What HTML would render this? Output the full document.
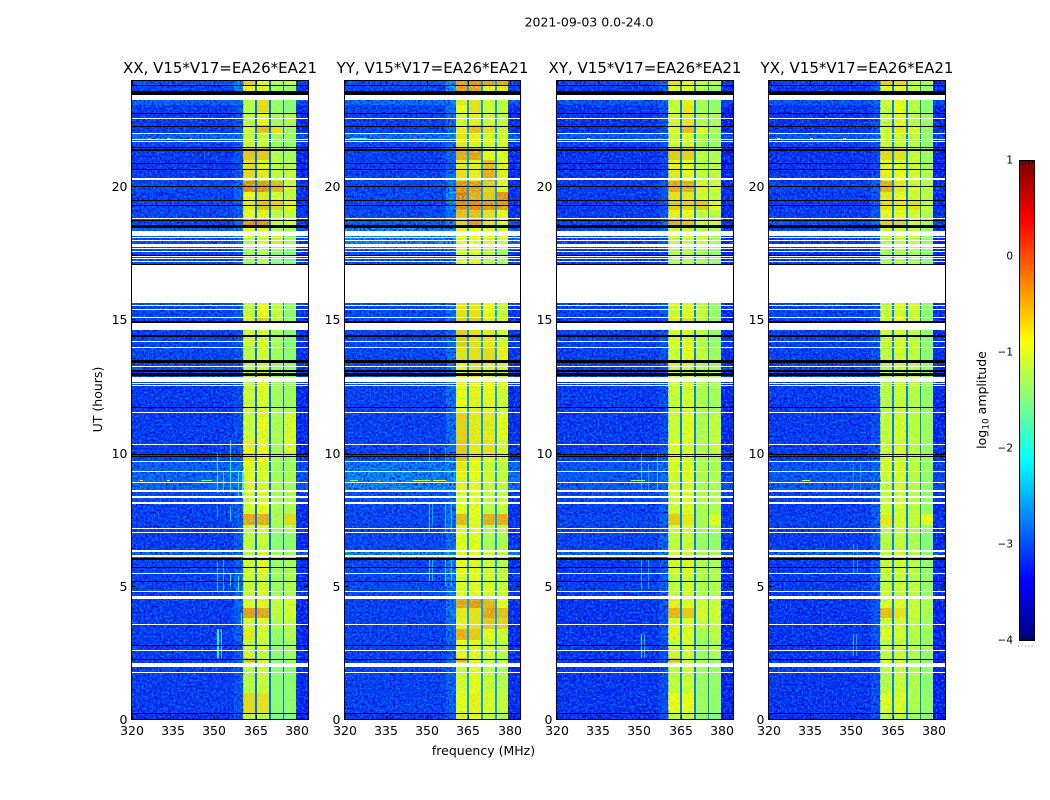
<!DOCTYPE html>
<html>
<head>
<meta charset="utf-8">
<title>2021-09-03 dynamic spectra</title>
<style>
html,body{margin:0;padding:0;background:#fff;}
svg{display:block;}
text{font-family:"DejaVu Sans","Liberation Sans",sans-serif;fill:#000;}
</style>
</head>
<body>
<svg id="chart" xmlns="http://www.w3.org/2000/svg" width="1050" height="800" viewBox="0 0 1050 800">
<defs>
<filter id="speckle-dark" x="0" y="0" width="1" height="1" color-interpolation-filters="sRGB">
<feTurbulence type="fractalNoise" baseFrequency="0.5" numOctaves="2" seed="4"/>
<feColorMatrix type="matrix" values="0 0 0 0 0  0 0 0 0 0.02  0 0 0 0 0.78  3.2 0 0 0 -1.3"/>
</filter>
<filter id="speckle-light" x="0" y="0" width="1" height="1" color-interpolation-filters="sRGB">
<feTurbulence type="fractalNoise" baseFrequency="0.5" numOctaves="2" seed="11"/>
<feColorMatrix type="matrix" values="0 0 0 0 0  0 0 0 0 0.5  0 0 0 0 1  0 3.4 0 0 -1.55"/>
</filter>
<filter id="speckle-band" x="0" y="0" width="1" height="1" color-interpolation-filters="sRGB">
<feTurbulence type="fractalNoise" baseFrequency="0.45" numOctaves="2" seed="7"/>
<feColorMatrix type="matrix" values="0 0 0 0 0.45  0 0 0 0 1  0 0 0 0 0.45  2.4 0 0 0 -1.05"/>
</filter>
<linearGradient id="jet-gradient" x1="0" y1="1" x2="0" y2="0"></linearGradient>
</defs>
<text x="589" y="26.5" font-size="12.5" text-anchor="middle">2021-09-03 0.0-24.0</text>
<text transform="translate(102,399.5) rotate(-90)" font-size="12.5" text-anchor="middle">UT (hours)</text>
<text x="483.5" y="755" font-size="12.5" text-anchor="middle">frequency (MHz)</text>
<g id="panels"></g>
<g id="colorbar"></g>
<text transform="translate(986,400) rotate(-90)" font-size="12.5" text-anchor="middle">log<tspan font-size="9" dy="2.5">10</tspan><tspan dy="-2.5"> amplitude</tspan></text>
<line x1="1018" x2="1035" y1="646" y2="646" stroke="#777" stroke-width="1" stroke-dasharray="1 2.4"></line>
</svg>
<script>
const panelNames = ['XX', 'YY', 'XY', 'YX'];
const baselineLabel = 'V15*V17=EA26*EA21';
const freqTicks = [320, 335, 350, 365, 380];
const timeTicks = [0, 5, 10, 15, 20];
const colorTicks = [1, 0, -1, -2, -3, -4];
const colorbarTickLabels = ['1', '0', '\u22121', '\u22122', '\u22123', '\u22124'];
const freqEdges = [320, 357, 360.4, 364.7, 365.3, 369.7, 370.3, 374.7, 375.3, 379.6, 384];
const timeEdges = [0,0.25,1,1.7,2.15,2.3,3,3.4,3.8,4.2,4.6,5.5,6,6.35,7,7.3,7.7,8.1,8.6,9.3,9.65,10,10.5,11.5,12.6,13.4,14,14.6,15.1,15.65,17.05,17.6,18.1,18.5,18.8,19.1,19.5,19.8,20.2,20.7,21,21.5,21.75,22,22.3,22.8,23.05,23.25,23.8,24];
const gapLevels = [-2.85, -2.6, -2.75, -2.75];

/* each row: noise floor, band-edge, sub-band 1..4 (log10 amplitude); null = no data */
const xxRows = [
[-3.2,-3,-1.1,-1.1,-1.5,-1.5],[-3.1,-2.9,-.65,-.7,-1.4,-1.4],[-3.1,-2.9,-1.15,-1.05,-1.4,-1.4],[-3.05,-2.9,-1.15,-1.05,-1.4,-1.45],[-3.1,-2.8,-.4,-1,-1.4,-1.3],
[-3.1,-2.9,-1.05,-1.05,-1.4,-1.3],[-3.1,-2.8,-.75,-1,-1.35,-1.2],[-3.1,-2.8,-.95,-.95,-1.2,-1.1],[-3.1,-2.8,-.3,-.35,-1.1,-1],[-3.1,-2.7,-.95,-.8,-1.1,-1],
[-3.05,-2.7,-1.05,-1,-1.3,-1.2],[-3.05,-2.8,-1,-.9,-1.3,-1.25],[-2.75,-2.6,-1.1,-1,-1.3,-1.3],[-3.1,-2.85,-1.1,-1.05,-1.4,-1.4],[-3.1,-2.85,-1.05,-1,-1.3,-1.2],
[-3.05,-2.8,-.35,-.4,-1.2,-.65],[-3.05,-2.8,-1,-.9,-1.2,-1.2],[-3,-2.8,-1,-.9,-1.25,-1.2],[-2.75,-2.6,-.95,-.95,-1.25,-1.25],[-2.8,-2.6,-.9,-.95,-1.3,-1.3],
[-3.05,-2.8,-.7,-.85,-1.25,-1.3],[-3.1,-2.9,-.8,-.85,-1.25,-.95],[-3.1,-2.95,-1.05,-.85,-1.2,-1],[-3.1,-2.95,-1.05,-.95,-1.25,-1.3],[-3,-2.9,-1.1,-1,-1.3,-1.4],
[-3,-2.9,-1.15,-1,-1.25,-1.4],[-3.05,-2.9,-1,-.95,-1.2,-1.45],[-3,-2.85,-.8,-.6,-1.1,-1.4],[-3,-2.85,-1.1,-.9,-1.1,-1.4],null,
[-3,-2.9,-1.3,-1.2,-1.4,-1.5],[-2.95,-2.8,-1.2,-.95,-.75,-1.3],[-2.8,-2.6,-.9,-.95,-1.2,-1.3],[-3,-2.7,-.25,-.25,-1.05,-1],[-3,-2.8,-.85,-.8,-1.1,-1.1],
[-3,-2.8,-.75,-.5,-.6,-.8],[-3.05,-2.8,-.85,-.75,-1,-1.1],[-3,-2.7,-.2,-.25,-.45,-1],[-3.1,-2.9,-.65,-.75,-1.1,-1.1],[-3.1,-2.9,-.7,-.8,-1.15,-1.15],
[-3.1,-2.9,-.55,-.55,-1.15,-1.25],[-3,-2.8,-1.05,-1.05,-1.3,-1.35],[-2.75,-2.6,-1.1,-1.1,-1.3,-1.35],[-3.1,-2.9,-1.05,-.5,-.7,-1.3],[-3.1,-2.9,-1.1,-.85,-1.25,-1.2],
[-3.1,-2.9,-1.15,-.65,-1.3,-1.45],[-2.8,-2.7,-1.1,-.7,-1.3,-1.4],[-3.05,-2.5,-.8,-.85,-1.2,-1.35],[-2.9,-2.5,-.6,-.9,-1.2,-1.1]
];
const yyRows = [
[-3.15,-2.9,-.8,-.85,-1.1,-1.2],[-3.05,-2.8,-.9,-.8,-.95,-1.05],[-3.05,-2.8,-1,-.9,-1.05,-1.15],[-3.05,-2.8,-1.05,-.95,-1.1,-1.2],[-3.05,-2.7,-.4,-.8,-1,-1.1],
[-3.05,-2.8,-.85,-.85,-1,-1.1],[-3.05,-2.7,-.4,-.55,-.9,-1],[-3.05,-2.7,-.8,-.7,-.55,-.6],[-3.05,-2.6,-.75,-.7,-.35,-.5],[-3.05,-2.6,-.35,-.3,-.45,-.9],
[-3,-2.6,-.95,-.9,-.95,-1.05],[-3,-2.6,-.85,-.85,-1,-1.1],[-2.5,-2.4,-.85,-.85,-1,-1.05],[-3,-2.7,-.9,-.9,-1.2,-1.2],[-3.05,-2.7,-.95,-.95,-1.2,-1.1],
[-3,-2.7,-.45,-.9,-.4,-.4],[-3,-2.7,-.9,-.85,-1.1,-1.05],[-2.95,-2.7,-.85,-.85,-1.05,-1.05],[-2.5,-2.4,-.8,-.85,-1.05,-1.1],[-2.6,-2.5,-.75,-.85,-1.05,-1.1],
[-3,-2.6,-.5,-.75,-.9,-1],[-3.05,-2.7,-.55,-.75,-.7,-1],[-3.05,-2.7,-.6,-.75,-.75,-.9],[-3.05,-2.7,-.85,-.8,-.85,-1],[-3,-2.7,-.9,-.75,-.85,-1],
[-3,-2.7,-.7,-.7,-.65,-.8],[-3,-2.7,-.55,-.7,-.75,-1],[-3,-2.7,-.6,-.55,-.8,-1],[-3,-2.7,-.7,-.7,-.85,-1.1],null,
[-2.95,-2.8,-1,-.9,-1.1,-1.25],[-2.55,-2.5,-.85,-.85,-.8,-1],[-2.55,-2.45,-.8,-.85,-.9,-1],[-2.8,-2.5,-.6,-.3,-.7,-.9],[-3,-2.7,-.5,-.5,-.7,-.85],
[-3,-2.5,-.2,-.2,-.25,-.3],[-3,-2.4,-.15,-.4,-.55,-.25],[-3,-2.5,-.25,-.3,-.6,-.9],[-3.05,-2.7,-.7,-.8,-.4,-.8],[-3.05,-2.8,-.75,-.8,-.5,-.85],
[-3.05,-2.7,-.35,-.35,-.85,-.9],[-3,-2.7,-.75,-.8,-.95,-1],[-2.65,-2.5,-.7,-.8,-.95,-1],[-3.05,-2.7,-.8,-.5,-.7,-1.05],[-3.05,-2.7,-.95,-.8,-1,-1.1],
[-3.05,-2.7,-.85,-.7,-1,-1.1],[-2.7,-2.6,-.75,-.7,-1,-1.1],[-3,-2.3,-.3,-.35,-.8,-.75],[-2.9,-2.4,-.3,-.25,-.35,-.4]
];
const xyRows = [
[-3.2,-3,-1.1,-1.1,-1.4,-1.5],[-3.15,-2.95,-.85,-.85,-1.3,-1.35],[-3.15,-2.95,-1.1,-1.05,-1.3,-1.35],[-3.1,-2.95,-1.1,-1.05,-1.3,-1.35],[-3.15,-2.9,-.5,-1,-1.3,-1.3],
[-3.15,-2.95,-1.05,-1,-1.3,-1.2],[-3.15,-2.9,-.8,-.95,-1.25,-1.15],[-3.15,-2.9,-.95,-.95,-1.1,-1.05],[-3.15,-2.9,-.45,-.55,-1,-1],[-3.15,-2.85,-.8,-.9,-1.05,-1.05],
[-3.1,-2.8,-1.1,-1,-1.2,-1.2],[-3.1,-2.85,-1,-.95,-1.2,-1.2],[-2.75,-2.6,-1.05,-1,-1.2,-1.25],[-3.05,-2.8,-1.1,-1.05,-1.3,-1.35],[-3.05,-2.8,-1.05,-1,-1.3,-1.25],
[-3,-2.8,-.55,-.75,-1.25,-.9],[-3.05,-2.85,-1,-.95,-1.2,-1.2],[-3,-2.85,-1,-.95,-1.2,-1.2],[-2.85,-2.7,-1,-.95,-1.2,-1.2],[-2.9,-2.7,-.95,-.95,-1.2,-1.25],
[-3.1,-2.85,-.9,-.95,-1.2,-1.25],[-3.1,-2.9,-.95,-.95,-1.2,-1.1],[-3.1,-2.95,-1.05,-.95,-1.2,-1.1],[-3.1,-2.95,-1.05,-1,-1.2,-1.25],[-3.05,-2.9,-1.05,-1,-1.2,-1.3],
[-3.05,-2.9,-1.05,-.9,-1.1,-1.3],[-3.05,-2.9,-.95,-.95,-1.15,-1.35],[-3.05,-2.9,-.75,-.7,-1.1,-1.35],[-3.05,-2.9,-1.05,-.95,-1.1,-1.35],null,
[-3.1,-3,-1.2,-1.15,-1.3,-1.4],[-3.05,-2.9,-1.1,-1,-.95,-1.25],[-3,-2.85,-1,-1,-1.15,-1.25],[-3,-2.7,-.4,-.5,-1.05,-1],[-3.1,-2.9,-.8,-.85,-1.1,-1.1],
[-3.1,-2.9,-.55,-.6,-.55,-.9],[-3.1,-2.9,-.7,-.75,-1,-1.1],[-3.1,-2.85,-.35,-.4,-.8,-1],[-3.15,-3,-.75,-.85,-1.1,-1.1],[-3.15,-3,-.8,-.85,-1.15,-1.15],
[-3.15,-3,-.55,-.6,-1.1,-1.2],[-3.05,-2.9,-1,-1,-1.25,-1.3],[-2.85,-2.7,-1.05,-1,-1.25,-1.3],[-3.15,-2.95,-1,-.5,-.95,-1.25],[-3.15,-2.95,-1,-.75,-1.2,-1.2],
[-3.15,-2.95,-1.05,-.75,-1.25,-1.35],[-2.9,-2.75,-1,-.8,-1.25,-1.35],[-3.1,-2.75,-.85,-.85,-1.2,-1.3],[-3,-2.7,-.7,-.8,-1.1,-1.15]
];
const yxRows = [
[-3.2,-3,-1.15,-1.1,-1.3,-1.45],[-3.15,-2.95,-.95,-.95,-1.2,-1.35],[-3.15,-2.95,-1.15,-1.05,-1.2,-1.4],[-3.1,-2.95,-1.15,-1.05,-1.25,-1.4],[-3.15,-2.95,-.9,-1,-1.25,-1.35],
[-3.15,-2.95,-1.1,-1.05,-1.2,-1.3],[-3.15,-2.9,-.95,-1,-1.15,-1.3],[-3.15,-2.9,-1,-1,-1.1,-1.25],[-3.15,-2.9,-.5,-.7,-1.05,-1.2],[-3.15,-2.9,-.95,-.95,-1.05,-1.2],
[-3.1,-2.85,-1.1,-1.05,-1.15,-1.35],[-3.1,-2.85,-1.05,-1,-1.15,-1.35],[-2.8,-2.65,-1.1,-1.05,-1.2,-1.4],[-3.1,-2.85,-1.15,-1.1,-1.2,-1.45],[-3.1,-2.85,-1.1,-1.05,-1.2,-1.4],
[-3.05,-2.85,-.75,-1,-1.1,-.85],[-3.1,-2.85,-1.05,-1,-1.15,-1.35],[-3.05,-2.85,-1.05,-1,-1.15,-1.35],[-2.85,-2.7,-1.05,-1,-1.15,-1.35],[-2.9,-2.75,-1,-1,-1.15,-1.35],
[-3.1,-2.85,-1,-1,-1.15,-1.35],[-3.1,-2.9,-1.05,-1,-1.15,-1.3],[-3.1,-2.95,-1.1,-1,-1.15,-1.3],[-3.1,-2.95,-1.15,-1.05,-1.15,-1.35],[-3.05,-2.9,-1.15,-1.05,-1.15,-1.4],
[-3.05,-2.9,-1.1,-1,-1.1,-1.4],[-3.05,-2.9,-1.05,-1,-1.1,-1.4],[-3.05,-2.9,-.95,-.9,-1.05,-1.4],[-3.05,-2.9,-1.1,-1,-1.05,-1.4],null,
[-3.1,-3,-1.25,-1.2,-1.25,-1.45],[-3.1,-2.95,-1.15,-1.05,-1.05,-1.4],[-3.05,-2.9,-1.05,-1.05,-1.1,-1.35],[-2.95,-2.7,-.6,-.6,-1.05,-1.25],[-3.1,-2.9,-.85,-.9,-1,-1.2],
[-3.1,-2.9,-.7,-.75,-.7,-1.1],[-3.1,-2.9,-.75,-.85,-1,-1.15],[-3.05,-2.8,-.4,-.75,-1,-1.15],[-3.15,-3,-.8,-.9,-1,-1.2],[-3.15,-3,-.85,-.9,-1.05,-1.25],
[-3.15,-3,-.65,-.7,-1.05,-1.3],[-3.05,-2.9,-1.05,-1.05,-1.15,-1.35],[-2.85,-2.7,-1.05,-1.05,-1.15,-1.35],[-3.15,-2.95,-1.05,-.75,-1,-1.35],[-3.15,-2.95,-1.05,-.9,-1.1,-1.3],
[-3.15,-2.95,-1.1,-.85,-1.15,-1.4],[-2.9,-2.75,-1.05,-.85,-1.15,-1.4],[-3.1,-2.8,-.9,-.8,-1.1,-1.35],[-3.05,-2.8,-.6,-.65,-1.05,-1.2]
];

/* flagged rows common to every panel: [start hour, end hour] */
const blankRows = [[1.734,1.775],[1.98,2.12],[2.559,2.6],[3.535,3.575],[4.53,4.63],[4.773,4.81],[5.448,5.488],[6.098,6.161],[6.285,6.36],[6.987,7.025],[7.137,7.175],[8.105,8.145],[8.3,8.386],[8.525,8.56],[8.585,8.62],[8.863,8.9],[9.298,9.343],[9.651,9.69],[10.3,10.34],[11.49,11.53],[12.525,12.56],[12.6,12.635],[12.664,12.84],[13.216,13.255],[13.93,13.97],[14.154,14.195],[14.597,14.889],[15.054,15.09],[15.366,15.405],[15.505,15.54],[15.625,17.054],[17.178,17.215],[17.268,17.305],[17.355,17.395],[17.53,17.57],[17.644,17.68],[17.741,17.842],[17.966,18.005],[18.08,18.12],[18.154,18.34],[18.79,18.83],[20.24,20.32],[21.66,21.7],[21.745,21.785],[21.98,22.02],[22.544,22.585],[23.246,23.433]];
const blackRows = [[0.19,0.23],[2.24,2.28],[2.765,2.805],[5.165,5.205],[5.69,5.73],[6,6.05],[9.84,9.88],[9.93,9.97],[11.695,11.735],[12.88,12.99],[13.04,13.115],[13.395,13.435],[13.445,13.485],[14.335,14.375],[14.385,14.425],[14.889,14.953],[17.043,17.09],[17.366,17.43],[18.46,18.537],[18.71,18.75],[19.25,19.29],[19.45,19.49],[19.97,20.01],[20.625,20.665],[20.85,20.89],[21.35,21.39],[21.45,21.49],[22.23,22.27],[22.725,22.765],[23.433,23.583],[23.775,23.815],[23.96,24]];

/* narrow-band interference: [MHz, start hour, end hour, log10 amplitude] */
const xxLines = [[350.8,2.3,3.4,-1.9],[351.2,2.3,3.4,-2.1],[352.2,2.3,3.4,-2.2],[350.8,4.8,5.9,-2.3],[353.1,4.8,6,-2.4],[355.7,5,5.5,-1.9],[358.6,4.8,5.4,-2],[359.5,3.5,4,-2.2],[350.8,7.6,8,-2.5],[355.7,7.4,8,-2.3],[350.8,8.5,10,-2.2],[353,8.5,9.3,-2.3],[355.7,8.5,10.5,-2.1],[358.6,8.4,9.3,-2.1],[359.8,8.4,9.3,-2.1]];
const yyLines = [[350.6,5.2,6,-2.2],[351.8,5.2,6,-2.4],[356.5,5,6,-2.2],[358.9,5,6,-2.3],[350.6,7,8.1,-2.4],[351.8,7.3,8.1,-2.5],[356.5,7,8.1,-2.4],[358.9,7,8.1,-2.4],[350.6,9.7,10.2,-2.4],[356.5,9.7,10.2,-2.5]];
const xyLines = [[350.6,2.3,3.2,-2.2],[351.8,2.3,3.2,-2.4],[350.6,4.9,6,-2.4],[353,4.9,6,-2.5],[350.6,8.6,10,-2.4],[353,8.6,9.6,-2.5],[356.5,8.6,10,-2.4]];
const yxLines = [[350.5,2.4,3.2,-2.4],[351.6,2.4,3.2,-2.5],[350.5,5.5,6.6,-2.5],[352,5.5,6.6,-2.6],[350.5,8.5,9.6,-2.6],[353,8.5,9.6,-2.6]];

/* short tones along a row: [hour, start MHz, end MHz, log10 amplitude] */
const xxTones = [[8.98,345,349,-1.6],[8.98,323,324,-.9],[8.98,333,334,-1.2],[21.83,326,327,-.3],[21.83,341,342,-.2],[21.83,333,334,-1.1]];
const yyTones = [[8.98,345,351,-1.2],[8.98,352,357,-1.0],[8.98,322,325,-1.5],[8.98,332,333,-.2],[21.83,322,328,-1.8],[21.83,333,334,.1],[21.83,345,346,.1]];
const xyTones = [[8.98,347,352,-1.5],[21.83,331,332,-1.2]];
const yxTones = [[8.98,332,335,-1.1],[21.83,323,324,-.8],[21.83,347,348,-.6],[21.83,335,336,-.6]];

const panelRows = [xxRows, yyRows, xyRows, yxRows];
const panelLines = [xxLines, yyLines, xyLines, yxLines];
const panelTones = [xxTones, yyTones, xyTones, yxTones];
const panelLefts = [131.5, 344.5, 556.5, 768.5];
const panelWidths = [177, 176, 177, 177];
const NS = 'http://www.w3.org/2000/svg';
const panelsRoot = document.getElementById('panels');
const plotTop = 80.5, plotBottom = 719.5;
const yOf = t => plotBottom - 26.65 * t;

function jet(v) {
  const f = Math.max(0, Math.min(1, (v + 4) / 5));
  const ramp = c => Math.round(255 * Math.max(0, Math.min(1, 1.5 - Math.abs(4 * f - c))));
  return 'rgb(' + ramp(3) + ',' + ramp(2) + ',' + ramp(1) + ')';
}
function make(tag, attrs, parent) {
  const el = document.createElementNS(NS, tag);
  for (const k in attrs) el.setAttribute(k, attrs[k]);
  parent.appendChild(el);
  return el;
}

panelNames.forEach((name, p) => {
  const left = panelLefts[p], width = panelWidths[p];
  const xOf = f => left + width * (f - 320) / 64;
  const g = make('g', {}, panelsRoot);
  
  
  const rows = panelRows[p];
  const gap = gapLevels[p];

  rows.forEach((row, r) => {
    if (!row) return;
    const cols = [row[0], row[1], row[2], gap, row[3], gap, row[4], gap, row[5], row[0] - 0.15];
    const y1 = Math.round(yOf(timeEdges[r + 1])), y0 = Math.round(yOf(timeEdges[r]));
    cols.forEach((v, c) => {
      const x0 = Math.round(xOf(freqEdges[c])), x1 = Math.round(xOf(freqEdges[c + 1]));
      const cell = make('rect', {x: x0, y: y1, width: x1 - x0, height: y0 - y1, fill: jet(v), 'shape-rendering': 'crispEdges'}, g);
      
      
    });
  });

  [[320, 360.4], [379.6, 384]].forEach(range => {
    ['speckle-dark', 'speckle-light'].forEach(id => {
      const tex = make('rect', {x: xOf(range[0]), y: plotTop, width: xOf(range[1]) - xOf(range[0]), height: plotBottom - plotTop, fill: '#000', filter: 'url(#' + id + ')'}, g);
      
      
    });
  });
  [[360.4, 364.7], [365.3, 369.7], [370.3, 374.7], [375.3, 379.6]].forEach(range => {
    const x0 = Math.round(xOf(range[0])), x1 = Math.round(xOf(range[1]));
    const bandTex = make('rect', {x: x0, y: plotTop, width: x1 - x0, height: plotBottom - plotTop, fill: '#000', filter: 'url(#speckle-band)'}, g);
    
    
  });

  panelLines[p].forEach(d => {
    const x = Math.round(xOf(d[0]));
    const y1 = Math.round(yOf(d[2])), y0 = Math.round(yOf(d[1]));
    const m = make('rect', {x: x, y: y1, width: 1, height: y0 - y1, fill: jet(d[3]), 'shape-rendering': 'crispEdges'}, g);
    
    
  });
  panelTones[p].forEach(d => {
    const x0 = Math.round(xOf(d[1])), x1 = Math.round(xOf(d[2]));
    const m = make('rect', {x: x0, y: Math.round(yOf(d[0])), width: Math.max(1, x1 - x0), height: 1, fill: jet(d[3]), 'shape-rendering': 'crispEdges'}, g);
    
    
  });

  const stripes = (list, color, label) => list.forEach(d => {
    const y1 = Math.round(yOf(d[1])), y0 = Math.round(yOf(d[0]));
    const s = make('rect', {x: Math.floor(left), y: y1, width: Math.ceil(width) + 1, height: Math.max(1, y0 - y1), fill: color, 'shape-rendering': 'crispEdges'}, g);
    
    
  });
  stripes(blackRows, '#000', 'flagged-row-black');
  stripes(blankRows, '#fff', 'flagged-row-blank');

  const frame = make('rect', {x: left, y: plotTop, width: width, height: plotBottom - plotTop, fill: 'none', stroke: '#000', 'stroke-width': 1, 'shape-rendering': 'crispEdges'}, g);
  
  

  freqTicks.forEach(f => {
    const x = Math.round(xOf(f)) + 0.5;
    const t1 = make('line', {x1: x, x2: x, y1: plotBottom, y2: plotBottom - 4, stroke: '#000'}, g);
    
    
    const t2 = make('line', {x1: x, x2: x, y1: plotTop, y2: plotTop + 4, stroke: '#000'}, g);
    
    
    const lab = make('text', {x: x - 0.5, y: 735, 'font-size': 12.5, 'text-anchor': 'middle'}, g);
    lab.textContent = f;
    
    
  });
  timeTicks.forEach(t => {
    const y = Math.round(yOf(t) - 0.5) + 0.5;
    const t1 = make('line', {x1: left, x2: left + 4, y1: y, y2: y, stroke: '#000'}, g);
    
    
    const t2 = make('line', {x1: left + width, x2: left + width - 4, y1: y, y2: y, stroke: '#000'}, g);
    
    
    const lab = make('text', {x: left - 4, y: y + 4.5, 'font-size': 12.5, 'text-anchor': 'end'}, g);
    lab.textContent = t;
    
    
  });
  const title = make('text', {x: left + width / 2, y: 73, 'font-size': 15, 'text-anchor': 'middle'}, g);
  title.textContent = name + ', ' + baselineLabel;
  
  
});

/* colorbar */
const cb = document.getElementById('colorbar');
const cbLeft = 1019.5, cbRight = 1034.5, cbTop = 160.5, cbBottom = 640.5;
const cbY = v => cbBottom - (cbBottom - cbTop) * (v + 4) / 5;
const grad = document.getElementById('jet-gradient');
for (let i = 0; i <= 40; i++) {
  const v = -4 + i / 8;
  make('stop', {offset: (i / 40), 'stop-color': jet(v)}, grad);
}
const cbFill = make('rect', {x: cbLeft, y: cbTop, width: cbRight - cbLeft, height: cbBottom - cbTop, fill: 'url(#jet-gradient)', stroke: '#000', 'stroke-width': 1}, cb);


colorTicks.forEach((v, i) => {
  const lab = make('text', {x: 1013, y: Math.round(cbY(v)) + 2.5, 'font-size': 10.5, 'text-anchor': 'end'}, cb);
  lab.textContent = colorbarTickLabels[i];
  
  
});
[3, 6, 9.5, 13].forEach(dx => {
  [[cbTop, cbTop + 4], [cbBottom, cbBottom - 4]].forEach(pair => {
    const t = make('line', {x1: cbLeft + dx, x2: cbLeft + dx, y1: pair[0], y2: pair[1], stroke: '#000'}, cb);
    
    
  });
});
</script>
</body>
</html>
